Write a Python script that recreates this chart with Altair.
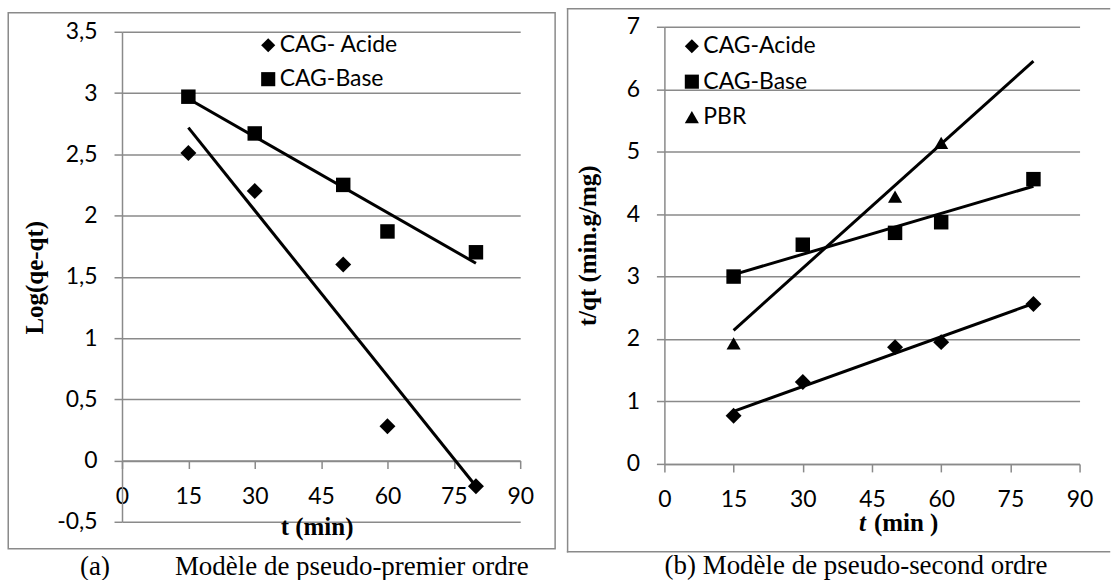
import altair as alt
import pandas as pd

# ---------------- data ----------------
t_vals = [15, 30, 50, 60, 80]

a_series = ["CAG- Acide", "CAG-Base"]
a_acide = [2.51, 2.20, 1.60, 0.28, -0.21]
a_base = [2.97, 2.67, 2.25, 1.87, 1.70]

b_series = ["CAG-Acide", "CAG-Base", "PBR"]
b_acide = [0.77, 1.31, 1.87, 1.95, 2.56]
b_base = [3.00, 3.51, 3.70, 3.87, 4.56]
pbr_t = [15, 30, 50, 60]
b_pbr = [1.93, 3.51, 4.28, 5.14]

x_ticks = [0, 15, 30, 45, 60, 75, 90]
a_y_ticks = [-0.5, 0, 0.5, 1, 1.5, 2, 2.5, 3, 3.5]
b_y_ticks = [0, 1, 2, 3, 4, 5, 6, 7]

a_ytitle = "Log(qe-qt)"
a_xtitle = "t (min)"
b_ytitle = "t/qt (min.g/mg)"
a_caption_tag = "(a)"
a_caption = "Modèle de pseudo-premier ordre"
b_caption = "(b) Modèle de pseudo-second ordre"

# ---------------- tables ----------------
dfA = pd.DataFrame(
    [{"t": t, "v": v, "series": a_series[0]} for t, v in zip(t_vals, a_acide)]
    + [{"t": t, "v": v, "series": a_series[1]} for t, v in zip(t_vals, a_base)]
)
dfB = pd.DataFrame(
    [{"t": t, "v": v, "series": b_series[2]} for t, v in zip(pbr_t, b_pbr)]
    + [{"t": t, "v": v, "series": b_series[0]} for t, v in zip(t_vals, b_acide)]
    + [{"t": t, "v": v, "series": b_series[1]} for t, v in zip(t_vals, b_base)]
)
one = pd.DataFrame({"k": [0]})

GRID = "#8a8a8a"
SANS = "Lato"
SERIF = "Liberation Serif"
LBL = 23
TTL = 25
CAP = 27

comma_expr = "(datum.value < 0 ? '-' : '') + replace(format(abs(datum.value), '.1~f'), '.', ',')"


def x_enc(offset, title, tx, ty):
    kw = dict(
        values=x_ticks, offset=offset, grid=False,
        domainColor=GRID, domainWidth=1.5, tickColor=GRID, tickWidth=1.5, tickSize=8,
        labelFont=SANS, labelFontSize=LBL, labelColor="black", labelPadding=17,
        labelFlush=False, labelOverlap=False,
    )
    if title:
        kw.update(title=title, titleFont=SERIF, titleFontWeight="bold", titleFontSize=TTL,
                  titleColor="black", titleX=tx, titleY=ty, titleAlign="center",
                  titleBaseline="alphabetic")
    else:
        kw.update(title=None)
    return alt.X("t:Q", scale=alt.Scale(domain=[0, 90], nice=False, zero=False),
                 axis=alt.Axis(**kw))


def y_enc(domain, ticks, rng, title, tx, ty):
    return alt.Y(
        "v:Q", scale=alt.Scale(domain=domain, nice=False, zero=False, range=rng),
        axis=alt.Axis(
            values=ticks, grid=True, gridColor=GRID, gridWidth=1.5,
            domainColor=GRID, domainWidth=1.5, tickColor=GRID, tickWidth=1.5, tickSize=8,
            labelExpr=comma_expr, labelFont=SANS, labelFontSize=LBL, labelColor="black",
            labelPadding=17, labelOverlap=False,
            title=title, titleFont=SERIF, titleFontWeight="bold", titleFontSize=TTL,
            titleColor="black", titleX=tx, titleY=ty, titleAngle=270,
            titleAlign="center", titleBaseline="middle",
        ),
    )


def legend(lx, ly, rp):
    return alt.Legend(
        title=None, orient="none", legendX=lx, legendY=ly, padding=0, rowPadding=rp,
        labelFont=SANS, labelFontSize=LBL, labelColor="black", labelOffset=0,
        symbolSize=200, symbolFillColor="black", symbolStrokeColor="black",
        symbolStrokeWidth=0, symbolOpacity=1,
    )


def point_layers(df, names, shapes, sizes, order, X, Y, leg):
    shape = alt.Shape("series:N", scale=alt.Scale(domain=names, range=shapes), legend=leg)
    layers = []
    for i in order:
        layers.append(
            alt.Chart(df).transform_filter(alt.datum.series == names[i])
            .mark_point(filled=True, color="black", opacity=1, strokeWidth=0, size=sizes[i])
            .encode(x=X, y=Y, shape=shape)
        )
    return layers


# ---------------- panel A ----------------
XA = x_enc(-61.4, a_xtitle, 195, 74)
YA = y_enc([-0.5, 3.5], a_y_ticks, [496, 5], a_ytitle, -88, 251)

ptsA = point_layers(dfA, a_series, ["diamond", "square"], [256, 210], [0, 1], XA, YA, legend(135, 7, 10))
regA = alt.Chart(dfA).transform_regression("t", "v", groupby=["series"], extent=[15, 80]).mark_line(
    color="black", strokeWidth=3).encode(x=XA, y=YA, detail="series:N")

frameA = alt.Chart(one).mark_rect(fillOpacity=0, stroke=GRID, strokeWidth=1.5).encode(
    x=alt.value(-114), x2=alt.value(434), y=alt.value(-14), y2=alt.value(523))
capA1 = alt.Chart(one).mark_text(text=a_caption_tag, font=SERIF, fontSize=CAP, align="left",
                                 baseline="alphabetic", color="black").encode(
    x=alt.value(-42), y=alt.value(549))
capA2 = alt.Chart(one).mark_text(text=a_caption, font=SERIF, fontSize=CAP, align="left",
                                 baseline="alphabetic", color="black").encode(
    x=alt.value(53), y=alt.value(549))

panelA = alt.layer(frameA, *ptsA, regA, capA1, capA2).properties(width=399, height=496)

# ---------------- panel B ----------------
XB = x_enc(0, None, 0, 0)
YB = y_enc([0, 7], b_y_ticks, [438, 0], b_ytitle, -77, 219)

ptsB = point_layers(dfB, b_series, ["diamond", "square", "triangle-up"], [256, 210, 200], [2, 0, 1],
                    XB, YB, legend(16, 8, 11.5))
regB = alt.Chart(dfB).transform_regression("t", "v", groupby=["series"], extent=[15, 80]).mark_line(
    color="black", strokeWidth=3).encode(x=XB, y=YB, detail="series:N")

frameB_top = alt.Chart(one).mark_rule(color=GRID, strokeWidth=1.5, strokeCap="square").encode(
    x=alt.value(-97), x2=alt.value(446), y=alt.value(-18))
frameB_left = alt.Chart(one).mark_rule(color=GRID, strokeWidth=1.5, strokeCap="square").encode(
    x=alt.value(-97), y=alt.value(-18), y2=alt.value(526))
frameB_bot = alt.Chart(one).mark_rule(color=GRID, strokeWidth=1.5, strokeCap="square").encode(
    x=alt.value(-97), x2=alt.value(446), y=alt.value(526))
xtB1 = alt.Chart(one).mark_text(text="t", font=SERIF, fontSize=TTL, fontWeight="bold", fontStyle="italic",
                                align="left", baseline="alphabetic", color="black").encode(
    x=alt.value(195), y=alt.value(505))
xtB2 = alt.Chart(one).mark_text(text="(min )", font=SERIF, fontSize=TTL, fontWeight="bold",
                                align="left", baseline="alphabetic", color="black").encode(
    x=alt.value(210), y=alt.value(505))
capB = alt.Chart(one).mark_text(text=b_caption, font=SERIF, fontSize=CAP, align="center",
                                baseline="alphabetic", color="black").encode(
    x=alt.value(192), y=alt.value(548))

panelB = alt.layer(frameB_top, frameB_left, frameB_bot, *ptsB, regB, xtB1, xtB2, capB).properties(
    width=416, height=438)

chart = (
    alt.hconcat(panelA, panelB, spacing=9.5)
    .resolve_scale(x="independent", y="independent", shape="independent")
    .resolve_legend(shape="independent")
    .configure_view(stroke=None)
    .properties(padding={"left": 7.25, "top": 6.25, "right": 0, "bottom": 0}, background="white")
)

chart.save("out.html", embed_options={"renderer": "svg", "actions": False})
